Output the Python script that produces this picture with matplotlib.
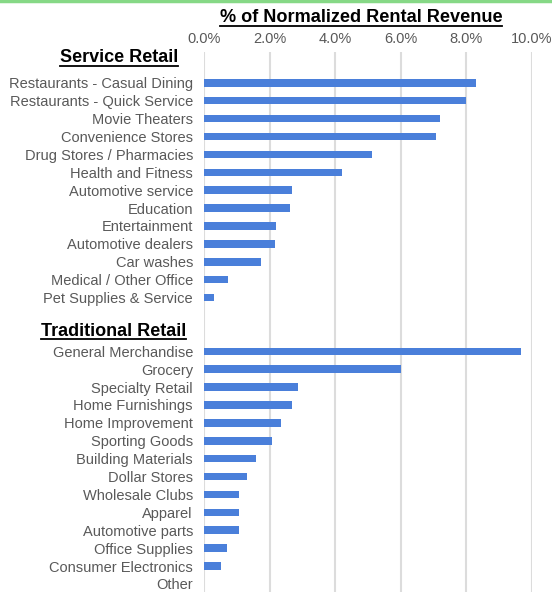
#!/usr/bin/env python3
import matplotlib
matplotlib.use("Agg")
import matplotlib.pyplot as plt
import numpy as np
from matplotlib.lines import Line2D
from matplotlib.ticker import FuncFormatter

service_labels = ["Restaurants - Casual Dining", "Restaurants - Quick Service",
                  "Movie Theaters", "Convenience Stores", "Drug Stores / Pharmacies",
                  "Health and Fitness", "Automotive service", "Education",
                  "Entertainment", "Automotive dealers", "Car washes",
                  "Medical / Other Office", "Pet Supplies & Service"]
service_values = [8.30, 7.98, 7.20, 7.08, 5.13, 4.21, 2.69, 2.61, 2.20, 2.17, 1.74, 0.74, 0.31]

traditional_labels = ["General Merchandise", "Grocery", "Specialty Retail",
                      "Home Furnishings", "Home Improvement", "Sporting Goods",
                      "Building Materials", "Dollar Stores", "Wholesale Clubs",
                      "Apparel", "Automotive parts", "Office Supplies",
                      "Consumer Electronics", "Other"]
traditional_values = [9.66, 6.00, 2.88, 2.69, 2.36, 2.06, 1.59, 1.30, 1.08, 1.08, 1.08, 0.70, 0.52, 0.0]

x_ticks = [0, 2, 4, 6, 8, 10]
title = "% of Normalized Rental Revenue"

plt.rcParams['font.family'] = ['Liberation Sans', 'DejaVu Sans']

W, H = 552, 592
fig = plt.figure(figsize=(W / 100, H / 100), dpi=100)

# slot positions: service rows, one blank row, header row, traditional rows
svc_pos = np.arange(len(service_labels))
trad_pos = np.arange(len(traditional_labels)) + len(service_labels) + 2

ax = fig.add_axes([204 / W, 0, (532 - 204) / W, (592 - 52) / H])
bar_color = "#4a7fda"
ax.barh(svc_pos, service_values, height=0.42, color=bar_color)
ax.barh(trad_pos, traditional_values, height=0.42, color=bar_color)

ax.set_xlim(0, 10)
ax.set_ylim(28.45, -1.72)
ax.xaxis.tick_top()
ax.set_xticks(x_ticks)
ax.xaxis.set_major_formatter(FuncFormatter(lambda v, p: "{:.1f}%".format(v)))
ax.tick_params(axis="x", length=0, pad=4.5, labelsize=10.5, labelcolor="#595959")
ax.set_yticks(list(svc_pos) + list(trad_pos))
ax.set_yticklabels(service_labels + traditional_labels)
ax.tick_params(axis="y", length=0, pad=8, labelsize=10.5, labelcolor="#595959")
ax.grid(axis="x", color="#dcdcdc", linewidth=1.5)
ax.set_axisbelow(True)
for s in ax.spines.values():
    s.set_visible(False)

t_title = fig.text(361 / W, 1 - 18 / H, title, ha="center", va="center",
                   fontsize=13.1, fontweight="bold", color="black")
t_svc = fig.text(178 / W, 1 - 58 / H, "Service Retail", ha="right", va="center",
                 fontsize=13, fontweight="bold", color="black")
t_trad = fig.text(186 / W, 1 - 331 / H, "Traditional Retail", ha="right", va="center",
                  fontsize=13, fontweight="bold", color="black")

# green rule at the very top
fig.add_artist(Line2D([0, 1], [1 - 1 / H, 1 - 1 / H], transform=fig.transFigure,
                      color="#86d886", linewidth=2.5))

# underline the bold headings
fig.canvas.draw()
renderer = fig.canvas.get_renderer()
for t in (t_title, t_svc, t_trad):
    bb = t.get_window_extent(renderer)
    y = (bb.y0 + 1) / H
    fig.add_artist(Line2D([bb.x0 / W, bb.x1 / W], [y, y], transform=fig.transFigure,
                          color="black", linewidth=1.3))

fig.savefig("out.png", dpi=100)
